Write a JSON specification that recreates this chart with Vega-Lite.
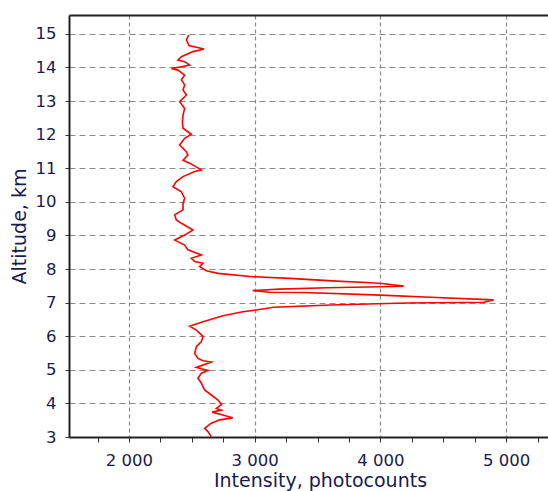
{
  "$schema": "https://vega.github.io/schema/vega-lite/v6.json",
  "autosize": "none",
  "width": 479,
  "height": 422,
  "padding": {"left": 69, "top": 15, "right": 0, "bottom": 54},
  "background": "white",
  "config": {
    "view": {"stroke": null},
    "font": "DejaVu Sans",
    "axis": {
      "labelFont": "DejaVu Sans",
      "titleFont": "DejaVu Sans",
      "labelFontSize": 16.5,
      "titleFontSize": 19,
      "titleFontWeight": "normal",
      "labelColor": "#1a1a50",
      "titleColor": "#1a1a50",
      "labelOverlap": false,
      "labelBound": false,
      "domainColor": "#222222",
      "domainWidth": 2,
      "tickColor": "#333333",
      "gridColor": "#8a8a8a",
      "gridWidth": 1.2,
      "gridOpacity": 1
    }
  },
  "data": {
    "values": [
      {"I": 2475, "A": 14.96}, {"I": 2457, "A": 14.82}, {"I": 2477, "A": 14.65}, {"I": 2597, "A": 14.55},
      {"I": 2509, "A": 14.47}, {"I": 2417, "A": 14.32}, {"I": 2390, "A": 14.22}, {"I": 2443, "A": 14.17},
      {"I": 2483, "A": 14.07}, {"I": 2417, "A": 14.02}, {"I": 2337, "A": 13.97}, {"I": 2390, "A": 13.92},
      {"I": 2443, "A": 13.77}, {"I": 2417, "A": 13.63}, {"I": 2443, "A": 13.48}, {"I": 2430, "A": 13.33},
      {"I": 2457, "A": 13.18}, {"I": 2403, "A": 12.98}, {"I": 2443, "A": 12.78}, {"I": 2430, "A": 12.58},
      {"I": 2425, "A": 12.38}, {"I": 2430, "A": 12.19}, {"I": 2496, "A": 12.01}, {"I": 2443, "A": 11.89},
      {"I": 2403, "A": 11.69}, {"I": 2457, "A": 11.49}, {"I": 2469, "A": 11.39}, {"I": 2430, "A": 11.24},
      {"I": 2483, "A": 11.15}, {"I": 2576, "A": 10.95}, {"I": 2523, "A": 10.90}, {"I": 2430, "A": 10.75},
      {"I": 2377, "A": 10.60}, {"I": 2350, "A": 10.45}, {"I": 2417, "A": 10.30}, {"I": 2443, "A": 10.10},
      {"I": 2430, "A": 9.96}, {"I": 2430, "A": 9.76}, {"I": 2364, "A": 9.61}, {"I": 2377, "A": 9.46},
      {"I": 2417, "A": 9.36}, {"I": 2509, "A": 9.16}, {"I": 2443, "A": 9.01}, {"I": 2364, "A": 8.86},
      {"I": 2443, "A": 8.71}, {"I": 2469, "A": 8.57}, {"I": 2576, "A": 8.42}, {"I": 2496, "A": 8.32},
      {"I": 2523, "A": 8.22}, {"I": 2589, "A": 8.17}, {"I": 2562, "A": 8.07}, {"I": 2616, "A": 7.95},
      {"I": 2708, "A": 7.87}, {"I": 2986, "A": 7.77}, {"I": 3278, "A": 7.72}, {"I": 3650, "A": 7.64},
      {"I": 3891, "A": 7.60}, {"I": 4010, "A": 7.57}, {"I": 4185, "A": 7.49}, {"I": 4002, "A": 7.47},
      {"I": 3573, "A": 7.44}, {"I": 3199, "A": 7.40}, {"I": 2984, "A": 7.36}, {"I": 3119, "A": 7.31},
      {"I": 3390, "A": 7.30}, {"I": 3947, "A": 7.23}, {"I": 4448, "A": 7.15}, {"I": 4901, "A": 7.08},
      {"I": 4822, "A": 7.01}, {"I": 4209, "A": 6.99}, {"I": 3604, "A": 6.93}, {"I": 3151, "A": 6.86},
      {"I": 3013, "A": 6.78}, {"I": 2904, "A": 6.73}, {"I": 2748, "A": 6.61}, {"I": 2589, "A": 6.43},
      {"I": 2483, "A": 6.30}, {"I": 2536, "A": 6.18}, {"I": 2562, "A": 6.09}, {"I": 2589, "A": 5.99},
      {"I": 2576, "A": 5.84}, {"I": 2536, "A": 5.69}, {"I": 2523, "A": 5.49}, {"I": 2549, "A": 5.34},
      {"I": 2589, "A": 5.27}, {"I": 2655, "A": 5.23}, {"I": 2536, "A": 5.07}, {"I": 2628, "A": 4.98},
      {"I": 2576, "A": 4.90}, {"I": 2549, "A": 4.75}, {"I": 2576, "A": 4.60}, {"I": 2602, "A": 4.40},
      {"I": 2655, "A": 4.25}, {"I": 2708, "A": 4.10}, {"I": 2737, "A": 3.97}, {"I": 2695, "A": 3.85},
      {"I": 2735, "A": 3.80}, {"I": 2662, "A": 3.74}, {"I": 2753, "A": 3.65}, {"I": 2825, "A": 3.57},
      {"I": 2722, "A": 3.51}, {"I": 2655, "A": 3.41}, {"I": 2602, "A": 3.26}, {"I": 2628, "A": 3.16},
      {"I": 2655, "A": 3.01}
    ]
  },
  "resolve": {"axis": {"x": "independent"}},
  "encoding": {
    "y": {
      "field": "A", "type": "quantitative",
      "scale": {"domain": [3, 15.56], "nice": false, "zero": false},
      "axis": {
        "title": "Altitude, km",
        "values": [3, 4, 5, 6, 7, 8, 9, 10, 11, 12, 13, 14, 15],
        "tickSize": 4,
        "labelPadding": 9,
        "titlePadding": 6,
        "gridDash": [6, 4]
      }
    },
    "order": {"field": "A", "sort": "descending"}
  },
  "layer": [
    {
      "mark": {"type": "line", "color": "#ff0000", "strokeWidth": 1.6, "clip": true},
      "encoding": {
        "x": {
          "field": "I", "type": "quantitative",
          "scale": {"domain": [1523, 5333], "nice": false, "zero": false},
          "axis": {
            "orient": "bottom",
            "title": "Intensity, photocounts",
            "titleX": 251,
            "titlePadding": 3,
            "values": [1750, 2000, 2250, 2500, 2750, 3000, 3250, 3500, 3750, 4000, 4250, 4500, 4750, 5000, 5250],
            "labelExpr": "datum.value % 1000 === 0 ? replace(format(datum.value, ','), ',', ' ') : ''",
            "labelPadding": 10,
            "tickSize": 5,
            "gridDash": [4, 3],
            "gridOpacity": {"condition": {"test": "datum.value % 1000 === 0", "value": 1}, "value": 0}
          }
        }
      }
    },
    {
      "mark": {"type": "line", "strokeOpacity": 0},
      "encoding": {
        "x": {
          "field": "I", "type": "quantitative",
          "axis": {"orient": "top", "title": null, "labels": false, "ticks": false, "grid": false}
        }
      }
    }
  ]
}
